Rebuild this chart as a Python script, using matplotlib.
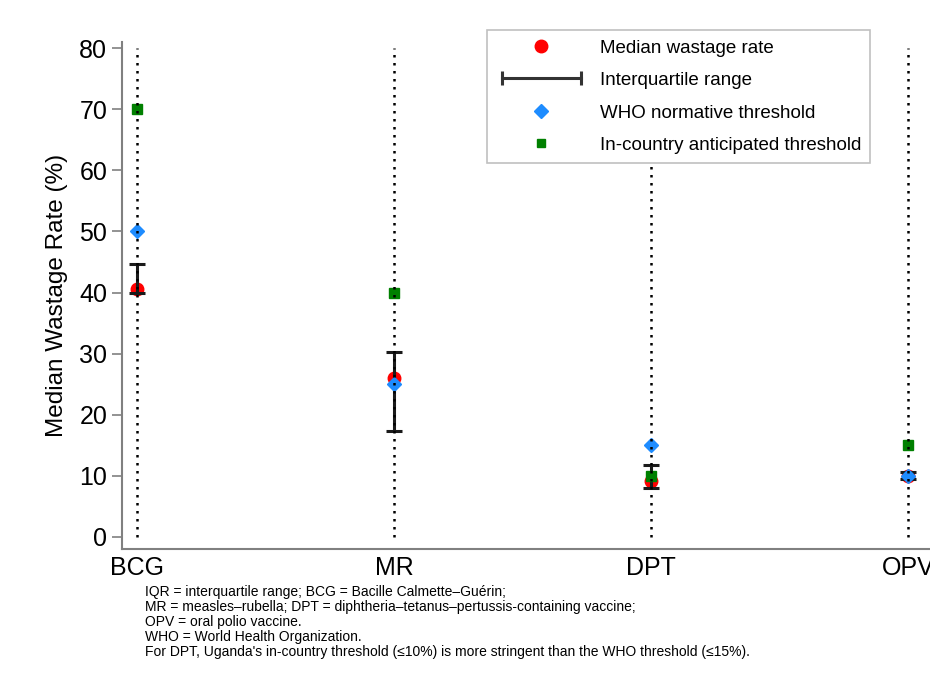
import matplotlib.pyplot as plt
from matplotlib.lines import Line2D
from matplotlib.legend_handler import HandlerLine2D

plt.rcParams["font.family"] = ["Liberation Sans", "DejaVu Sans"]

vaccines = ["BCG", "MR", "DPT", "OPV"]
median_rate = [40.6, 26.0, 9.2, 10.0]
iqr_low = [40.0, 17.3, 8.0, 9.5]
iqr_high = [44.6, 30.3, 11.7, 10.6]
who_threshold = [50, 25, 15, 10]
country_threshold = [70, 40, 10, 15]

notes = [
    "IQR = interquartile range; BCG = Bacille Calmette\u2013Gu\u00e9rin;",
    "MR = measles\u2013rubella; DPT = diphtheria\u2013tetanus\u2013pertussis-containing vaccine;",
    "OPV = oral polio vaccine.",
    "WHO = World Health Organization.",
    "For DPT, Uganda's in-country threshold (\u226410%) is more stringent than the WHO threshold (\u226415%).",
]

fig = plt.figure(figsize=(9.3, 6.83), dpi=100)
ax = fig.add_axes([0.131, 0.196, 0.869, 0.7425])

x = list(range(len(vaccines)))
err_lo = [m - lo for m, lo in zip(median_rate, iqr_low)]
err_hi = [hi - m for m, hi in zip(median_rate, iqr_high)]

ax.plot(x, median_rate, "o", color="#ff0000", markersize=9, zorder=2)
ax.errorbar(x, median_rate, yerr=[err_lo, err_hi], fmt="none", ecolor="#1a1a1a",
            elinewidth=2.2, capsize=5.5, capthick=2.2, zorder=3)
ax.plot(x, who_threshold, "D", color="#1e8cff", markersize=7.5, zorder=4)
ax.plot(x, country_threshold, "s", color="#008000", markersize=6.5, zorder=5)
ax.vlines(x, 0, 80, colors="black", linestyles=(0, (1, 2.2)), linewidth=1.8, zorder=6)

ax.set_xlim(-0.0584, 3.0856)
ax.set_ylim(-2, 81)
ax.set_yticks(range(0, 81, 10))
ax.set_xticks(x)
ax.set_xticklabels(vaccines)
ax.tick_params(axis="y", labelsize=18, length=7, color="#808080", width=1.2)
ax.tick_params(axis="x", labelsize=18, length=0, pad=5)
ax.set_ylabel("Median Wastage Rate (%)", fontsize=17.5, labelpad=8)
for side in ["top", "right"]:
    ax.spines[side].set_visible(False)
for side in ["left", "bottom"]:
    ax.spines[side].set_color("#808080")
    ax.spines[side].set_linewidth(1.5)

handles = [
    Line2D([], [], linestyle="none", marker="o", color="#ff0000", markersize=9),
    Line2D([], [], color="#333333", linewidth=2.2, marker="|", markersize=10, markeredgewidth=2.2),
    Line2D([], [], linestyle="none", marker="D", color="#1e8cff", markersize=7),
    Line2D([], [], linestyle="none", marker="s", color="#008000", markersize=6),
]
labels = ["Median wastage rate", "Interquartile range", "WHO normative threshold",
          "In-country anticipated threshold"]
leg = ax.legend(handles, labels, loc="upper left", bbox_to_anchor=(0.452, 1.0236),
                borderaxespad=0, fontsize=13.5, handlelength=4.8, handletextpad=0.7,
                labelspacing=0.82, borderpad=0.5, frameon=True, fancybox=False,
                edgecolor="#c0c0c0", framealpha=1,
                handler_map={handles[1]: HandlerLine2D(numpoints=2)})
leg.get_frame().set_linewidth(1.2)
leg.set_zorder(10)

for i, line in enumerate(notes):
    fig.text(0.156, 1 - (592 + i * 15) / 683, line, fontsize=10, va="center", ha="left")

fig.savefig("out.png", dpi=100)
